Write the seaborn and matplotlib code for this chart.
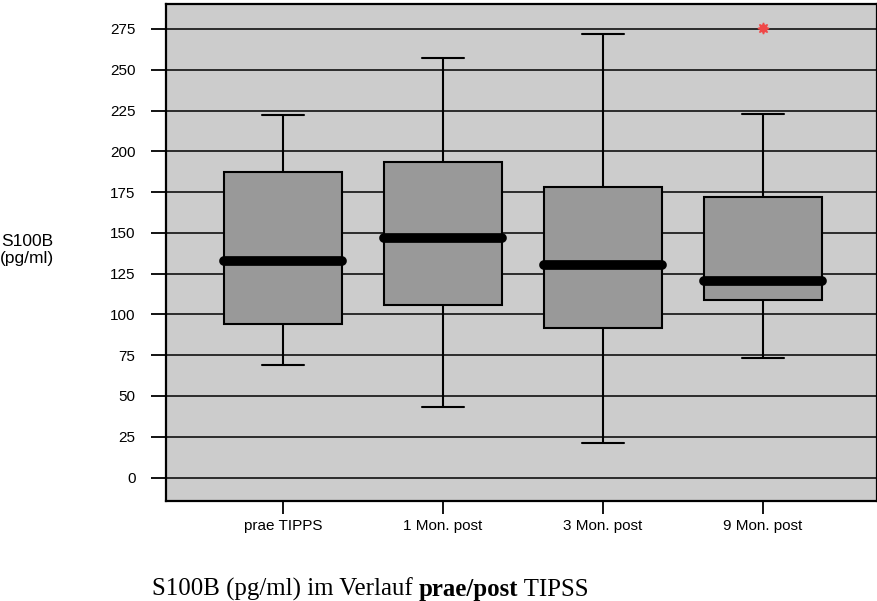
import numpy as np
import pandas as pd
import matplotlib
matplotlib.use("Agg")
import matplotlib.pyplot as plt
import seaborn as sns

# ---- data (five-number summaries + outliers) ----
categories = ["prae TIPPS", "1 Mon. post", "3 Mon. post", "9 Mon. post"]
whisker_low = [69.0, 43.5, 21.0, 73.0]
q1 = [94.0, 105.5, 91.5, 109.0]
medians = [133.0, 147.0, 130.0, 120.5]
q3 = [187.0, 193.5, 178.0, 172.0]
whisker_high = [222.0, 257.5, 272.0, 223.0]
outliers = [[], [], [], [275.5]]
yticks = list(range(0, 276, 25))

# build long-form observations whose box statistics reproduce the summaries
rows = []
for c, lo, a, m, b, hi, outs in zip(categories, whisker_low, q1, medians, q3, whisker_high, outliers):
    for v in [lo, a, a, m, m, b, b, hi] + list(outs):
        rows.append({"group": c, "value": v})
df = pd.DataFrame(rows)

sns.set_style("white")
plt.rcParams["font.family"] = ["Liberation Sans", "DejaVu Sans"]
plt.rcParams["text.color"] = "black"
plt.rcParams["axes.labelcolor"] = "black"
plt.rcParams["xtick.color"] = "black"
plt.rcParams["ytick.color"] = "black"

fig = plt.figure(figsize=(8.78, 6.01), dpi=100)
ax = fig.add_axes([166 / 878, 1 - 501 / 601, 711 / 878, 497 / 601])
ax.set_facecolor("#cccccc")

sns.boxplot(
    data=df, x="group", y="value", order=categories, ax=ax,
    color="#999999", linecolor="black", linewidth=1.5, width=0.74,
    saturation=1, whis=1.5,
    medianprops=dict(color="black", linewidth=7, solid_capstyle="round"),
    flierprops=dict(marker=(8, 1, 0), markerfacecolor="#f04848",
                    markeredgecolor="#f04848", markersize=8),
)

# narrower whisker caps
for line in ax.lines:
    xd = np.asarray(line.get_xdata(), dtype=float)
    yd = np.asarray(line.get_ydata(), dtype=float)
    if len(xd) == 2 and np.isclose(yd[0], yd[1]):
        length = abs(xd[1] - xd[0])
        if np.isclose(length, 0.37, atol=0.02):
            cx = xd.mean()
            line.set_xdata([cx - 0.13, cx + 0.13])

ax.set_ylim(-14.4, 290.3)
ax.set_xlim(-0.731, 3.7125)
ax.set_yticks(yticks)
ax.set_yticklabels([str(t) for t in yticks])
ax.yaxis.grid(True, color="black", linewidth=1.1)
ax.xaxis.grid(False)
ax.set_axisbelow(True)

for s in ax.spines.values():
    s.set_visible(True)
    s.set_color("black")
    s.set_linewidth(1.6)

ax.tick_params(axis="y", direction="out", length=11, width=1.3, pad=11,
               labelsize=11, colors="black", left=True)
ax.tick_params(axis="x", direction="out", length=9, width=1.3, pad=4,
               labelsize=11, colors="black", bottom=True)
ax.set_xlabel("")
ax.set_ylabel("")

fig.text(27 / 878, 1 - 250 / 601, "S100B\n(pg/ml)", ha="center", va="center",
         fontsize=12.5, linespacing=1.1, color="black",
         family=["Liberation Sans", "DejaVu Sans"])

# caption with a bold part
fig.canvas.draw()
renderer = fig.canvas.get_renderer()
x0 = 152
ybase = 1 - 596 / 601
parts = [("S100B (pg/ml) im Verlauf ", "normal"), ("prae/post", "bold"), (" TIPSS", "normal")]
for txt, weight in parts:
    t = fig.text(x0 / 878, ybase, txt, ha="left", va="baseline", fontsize=17.9,
                 fontweight=weight, color="black",
                 family=["Liberation Serif", "DejaVu Serif"])
    bb = t.get_window_extent(renderer=renderer)
    x0 = x0 + bb.width

fig.savefig("out.png", dpi=100)
